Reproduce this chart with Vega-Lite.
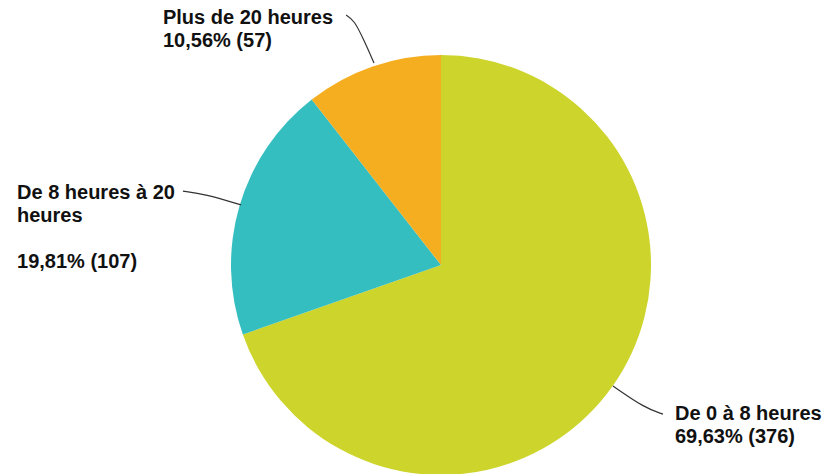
{
  "$schema": "https://vega.github.io/schema/vega-lite/v6.json",
  "width": 770,
  "height": 418,
  "autosize": {"type": "none"},
  "padding": {"left": 56, "top": 56, "right": 0, "bottom": 0},
  "background": "white",
  "config": {"view": {"stroke": null}},
  "datasets": {
    "slices": [
      {"categorie": "De 0 à 8 heures", "effectif": 376, "ordre": 1},
      {"categorie": "De 8 heures à 20 heures", "effectif": 107, "ordre": 2},
      {"categorie": "Plus de 20 heures", "effectif": 57, "ordre": 3}
    ],
    "leaders": [
      {"g": "a", "i": 1, "u": 0.819, "v": -0.576},
      {"g": "a", "i": 2, "u": 0.971, "v": -0.681},
      {"g": "a", "i": 3, "u": 1.057, "v": -0.71},
      {"g": "b", "i": 1, "u": -1.229, "v": 0.352},
      {"g": "b", "i": 2, "u": -1.124, "v": 0.338},
      {"g": "b", "i": 3, "u": -0.952, "v": 0.286},
      {"g": "c", "i": 1, "u": -0.452, "v": 1.19},
      {"g": "c", "i": 2, "u": -0.414, "v": 1.167},
      {"g": "c", "i": 3, "u": -0.367, "v": 1.071},
      {"g": "c", "i": 4, "u": -0.319, "v": 0.962}
    ],
    "labels": [
      {"texte": "De 0 à 8 heures\n69,63% (376)", "u": 1.114, "v": -0.738},
      {"texte": "De 8 heures à 20\nheures", "u": -2.019, "v": 0.312},
      {"texte": "19,81% (107)", "u": -2.019, "v": -0.0143},
      {"texte": "Plus de 20 heures\n10,56% (57)", "u": -1.324, "v": 1.148}
    ]
  },
  "layer": [
    {
      "data": {"name": "slices"},
      "mark": {"type": "arc", "radius": 210},
      "encoding": {
        "theta": {"field": "effectif", "type": "quantitative", "stack": true},
        "order": {"field": "ordre", "type": "quantitative"},
        "color": {
          "field": "categorie",
          "type": "nominal",
          "legend": null,
          "scale": {
            "domain": ["De 0 à 8 heures", "De 8 heures à 20 heures", "Plus de 20 heures"],
            "range": ["#CDD42B", "#35BEC0", "#F6AE21"]
          }
        }
      }
    },
    {
      "data": {"name": "leaders"},
      "mark": {"type": "line", "color": "#333333", "strokeWidth": 1.2, "interpolate": "basis", "clip": false},
      "encoding": {
        "x": {"field": "u", "type": "quantitative", "axis": null, "scale": {"domain": [-1.8333, 1.8333], "nice": false, "zero": false}},
        "y": {"field": "v", "type": "quantitative", "axis": null, "scale": {"domain": [-0.9952, 0.9952], "nice": false, "zero": false}},
        "detail": {"field": "g", "type": "nominal"},
        "order": {"field": "i", "type": "quantitative"}
      }
    },
    {
      "data": {"name": "labels"},
      "mark": {"type": "text", "align": "left", "baseline": "alphabetic", "font": "Liberation Sans", "fontWeight": "bold", "fontSize": 20, "lineHeight": 23, "lineBreak": "\n", "color": "#111111", "clip": false},
      "encoding": {
        "x": {"field": "u", "type": "quantitative", "axis": null, "scale": {"domain": [-1.8333, 1.8333], "nice": false, "zero": false}},
        "y": {"field": "v", "type": "quantitative", "axis": null, "scale": {"domain": [-0.9952, 0.9952], "nice": false, "zero": false}},
        "text": {"field": "texte", "type": "nominal"}
      }
    }
  ]
}
